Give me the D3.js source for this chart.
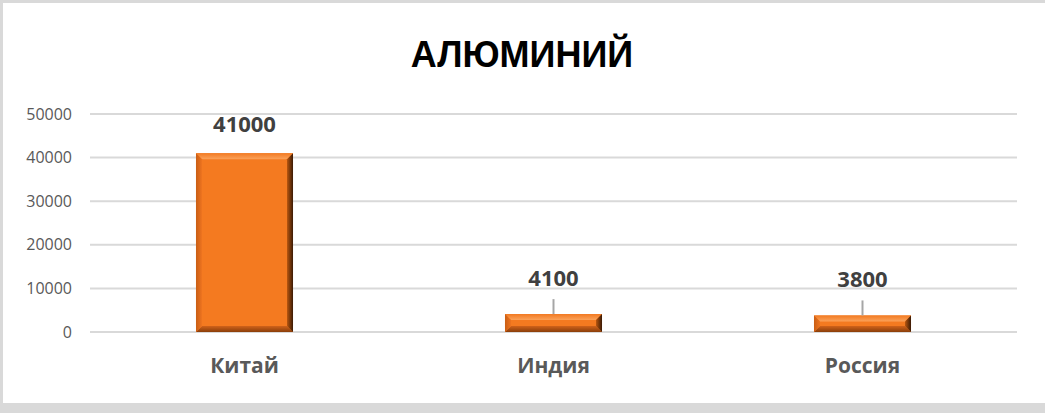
<!DOCTYPE html>
<html>
<head>
<meta charset="utf-8">
<script src="https://cdn.jsdelivr.net/npm/d3@7"></script>
<style>
  body { margin: 0; background: #fff; }
  svg { display: block; }
</style>
</head>
<body>
<div id="chart"></div>
<script>
// chart data
var categories = ["Китай", "Индия", "Россия"];
var values = [41000, 4100, 3800];
var yTicks = [0, 10000, 20000, 30000, 40000, 50000];
var title = "АЛЮМИНИЙ";

var W = 1045, H = 413;
var margin = {top: 114, right: 28, bottom: 81, left: 90},
    width = W - margin.left - margin.right,
    height = H - margin.top - margin.bottom;

var svg = d3.select("#chart").append("svg")
    .attr("width", W)
    .attr("height", H);

// frame of the chart area (top, left, bottom)
svg.append("rect").attr("x", 0).attr("y", 0).attr("width", W).attr("height", 3).attr("fill", "#d9d9d9");
svg.append("rect").attr("x", 0).attr("y", 0).attr("width", 3).attr("height", H).attr("fill", "#d9d9d9");
svg.append("rect").attr("x", 0).attr("y", 403).attr("width", W).attr("height", 10).attr("fill", "#d9d9d9");

var defs = svg.append("defs");
var topGrad = defs.append("linearGradient").attr("id", "topBevel")
    .attr("x1", 0).attr("y1", 0).attr("x2", 0).attr("y2", 1);
topGrad.append("stop").attr("offset", "0%").attr("stop-color", "#f27a22");
topGrad.append("stop").attr("offset", "100%").attr("stop-color", "#fba25a");
var rightGrad = defs.append("linearGradient").attr("id", "rightBevel")
    .attr("x1", 0).attr("y1", 0).attr("x2", 1).attr("y2", 0);
rightGrad.append("stop").attr("offset", "0%").attr("stop-color", "#b8560f");
rightGrad.append("stop").attr("offset", "100%").attr("stop-color", "#3a1a05");
var leftGrad = defs.append("linearGradient").attr("id", "leftBevel")
    .attr("x1", 0).attr("y1", 0).attr("x2", 1).attr("y2", 0);
leftGrad.append("stop").attr("offset", "0%").attr("stop-color", "#c95e14");
leftGrad.append("stop").attr("offset", "100%").attr("stop-color", "#ee7420");
var botGrad = defs.append("linearGradient").attr("id", "botBevel")
    .attr("x1", 0).attr("y1", 0).attr("x2", 0).attr("y2", 1);
botGrad.append("stop").attr("offset", "0%").attr("stop-color", "#d0621a");
botGrad.append("stop").attr("offset", "100%").attr("stop-color", "#8a3e0a");

var g = svg.append("g")
    .attr("transform", "translate(" + margin.left + "," + margin.top + ")");

var x = d3.scaleBand()
    .domain(categories)
    .range([0, width])
    .padding(0);

var y = d3.scaleLinear()
    .domain([0, 50000])
    .range([height, 0]);

// gridlines
g.append("g")
    .selectAll("line")
    .data(yTicks)
    .enter().append("line")
    .attr("x1", 0)
    .attr("x2", width)
    .attr("y1", function(d) { return y(d); })
    .attr("y2", function(d) { return y(d); })
    .attr("stroke", "#d9d9d9")
    .attr("stroke-width", 2);

// y axis labels
var yAxis = d3.axisLeft(y).tickValues(yTicks).tickFormat(d3.format("d"))
    .tickSize(0).tickPadding(18);
g.append("g")
    .call(yAxis)
    .call(function(s) { s.select(".domain").remove(); })
    .selectAll("text")
    .attr("font-family", "'Open Sans', sans-serif")
    .attr("font-size", 16)
    .attr("fill", "#595959");

// x axis labels
var xAxis = d3.axisBottom(x).tickSize(0).tickPadding(26);
g.append("g")
    .attr("transform", "translate(0," + height + ")")
    .call(xAxis)
    .call(function(s) { s.select(".domain").remove(); })
    .selectAll("text")
    .attr("font-family", "'Open Sans', sans-serif")
    .attr("font-weight", "bold")
    .attr("font-size", 21)
    .attr("fill", "#595959");

// bevelled bars
var barW = x.bandwidth() * 0.314;
var bars = g.selectAll(".bar")
    .data(categories.map(function(c, i) { return {c: c, v: values[i]}; }))
    .enter().append("g")
    .attr("class", "bar");

bars.each(function(d) {
    var sel = d3.select(this);
    var x0 = x(d.c) + (x.bandwidth() - barW) / 2, x1 = x0 + barW;
    var y0 = y(d.v), y1 = y(0);
    var b = Math.min(6, (y1 - y0) / 2, barW / 2);
    sel.append("rect")
        .attr("x", x0).attr("y", y0)
        .attr("width", barW).attr("height", y1 - y0)
        .attr("fill", "#f47a20");
    var poly = function(pts, fill) {
        sel.append("polygon")
            .attr("points", pts.map(function(p) { return p.join(","); }).join(" "))
            .attr("fill", fill);
    };
    poly([[x0, y0], [x1, y0], [x1 - b, y0 + b], [x0 + b, y0 + b]], "url(#topBevel)");
    poly([[x0, y1], [x1, y1], [x1 - b, y1 - b], [x0 + b, y1 - b]], "url(#botBevel)");
    poly([[x0, y0], [x0 + b, y0 + b], [x0 + b, y1 - b], [x0, y1]], "url(#leftBevel)");
    poly([[x1, y0], [x1 - b, y0 + b], [x1 - b, y1 - b], [x1, y1]], "url(#rightBevel)");
});

// data labels (small bars get a leader line)
bars.each(function(d) {
    var sel = d3.select(this);
    var cx = x(d.c) + x.bandwidth() / 2;
    var small = d.v < 10000;
    var ly = y(d.v) - (small ? 28 : 21);
    if (small) {
        sel.append("line")
            .attr("x1", cx).attr("x2", cx)
            .attr("y1", ly + 13).attr("y2", y(d.v))
            .attr("stroke", "#a6a6a6")
            .attr("stroke-width", 2);
    }
    sel.append("text")
        .attr("x", cx)
        .attr("y", ly)
        .attr("text-anchor", "middle")
        .attr("font-family", "'Open Sans', sans-serif")
        .attr("font-weight", "bold")
        .attr("font-size", 22)
        .attr("fill", "#404040")
        .text(d.v);
});

// title
svg.append("text")
    .attr("x", 522)
    .attr("y", 67)
    .attr("text-anchor", "middle")
    .attr("font-family", "'Liberation Sans', Arial, sans-serif")
    .attr("font-weight", "bold")
    .attr("font-size", 36)
    .attr("fill", "#000")
    .text(title);
</script>
</body>
</html>
